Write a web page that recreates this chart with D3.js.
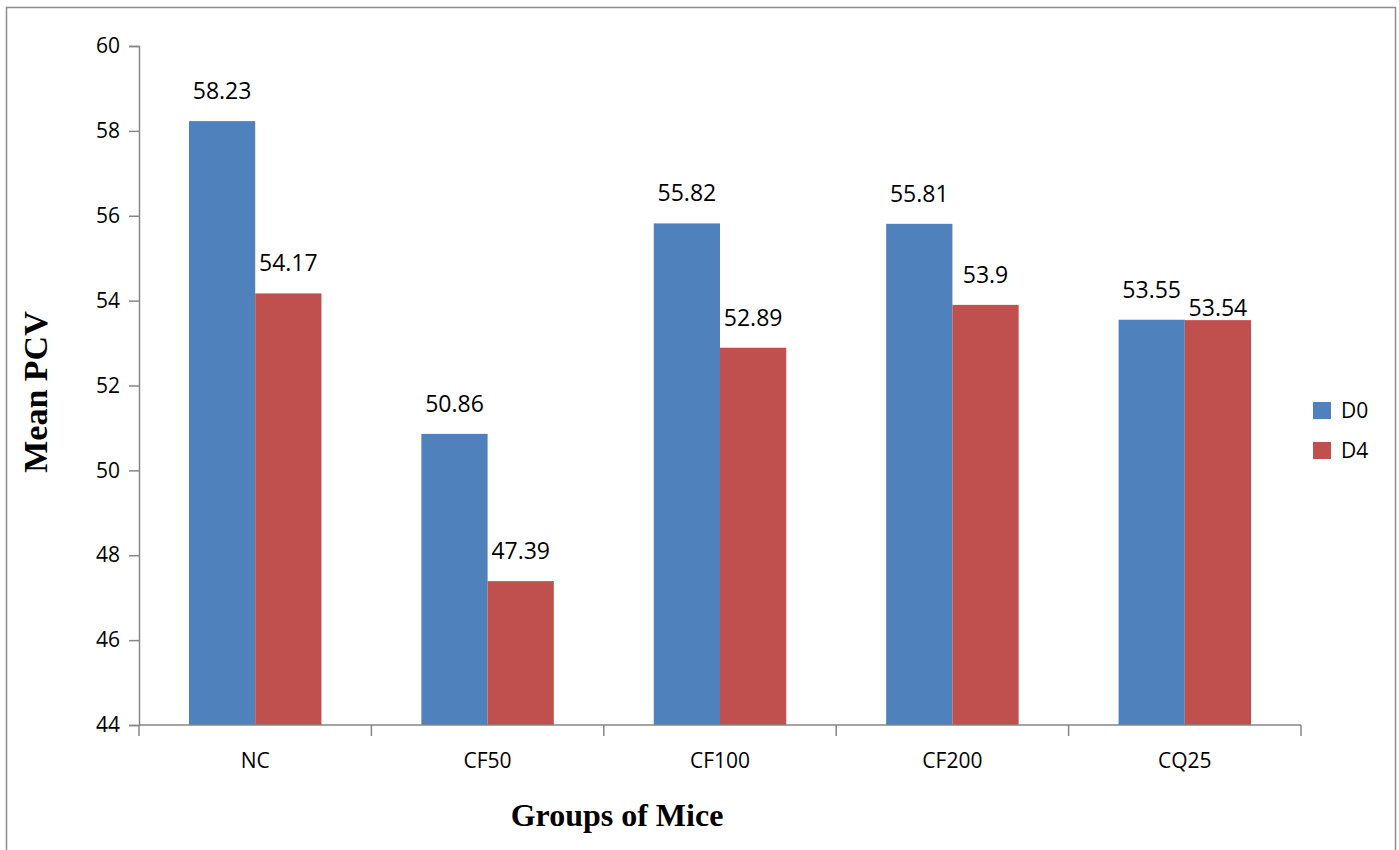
<!DOCTYPE html>
<html>
<head>
<meta charset="utf-8">
<script src="https://cdn.jsdelivr.net/npm/d3@7"></script>
<style>
  html, body { margin: 0; padding: 0; background: #fff; }
  svg { display: block; }
</style>
</head>
<body>
<svg id="chart" width="1399" height="850"></svg>
<script>
// Mean PCV per group of mice, day 0 vs day 4
const groups = ["NC", "CF50", "CF100", "CF200", "CQ25"];
const seriesNames = ["D0", "D4"];
const d0Values = [58.23, 50.86, 55.82, 55.81, 53.55];
const d4Values = [54.17, 47.39, 52.89, 53.9, 53.54];
const d0Labels = ["58.23", "50.86", "55.82", "55.81", "53.55"];
const d4Labels = ["54.17", "47.39", "52.89", "53.9", "53.54"];
const yTicks = [44, 46, 48, 50, 52, 54, 56, 58, 60];
const colors = ["#4F81BD", "#C0504D"];

const svg = d3.select("#chart");
const font = "'Open Sans', 'Liberation Sans', sans-serif";
const serif = "'Liberation Serif', 'Times New Roman', serif";
const axisColor = "#868686";

// outer chart frame
svg.append("rect")
  .attr("x", 6.5).attr("y", 7.5)
  .attr("width", 1389).attr("height", 860)
  .attr("fill", "none").attr("stroke", "#8c8c8c").attr("stroke-width", 1.5);

const plotLeft = 139, plotRight = 1301, plotTop = 46, plotBottom = 725;

const x = d3.scaleBand().domain(groups).range([plotLeft, plotRight]).padding(0);
const y = d3.scaleLinear().domain([44, 60]).range([plotBottom, plotTop]);
const barW = x.bandwidth() * 0.285;

const rows = groups.map((g, i) => ({
  group: g,
  vals: [d0Values[i], d4Values[i]],
  labels: [d0Labels[i], d4Labels[i]]
}));

// bars
const gGroups = svg.append("g").selectAll("g").data(rows).join("g");
gGroups.selectAll("rect")
  .data(d => d.vals.map((v, k) => ({ group: d.group, v, k })))
  .join("rect")
  .attr("x", d => x(d.group) + x.bandwidth() / 2 + (d.k - 1) * barW)
  .attr("width", barW)
  .attr("y", d => y(d.v))
  .attr("height", d => y(44) - y(d.v))
  .attr("fill", d => colors[d.k]);

// value labels; when the pair is nearly equal, the second label drops to avoid overlap
gGroups.each(function(d) {
  const g = d3.select(this);
  const close = Math.abs(y(d.vals[0]) - y(d.vals[1])) < 20;
  d.vals.forEach((v, k) => {
    const lift = (close && k === 1) ? 4 : 22;
    g.append("text")
      .attr("x", x(d.group) + x.bandwidth() / 2 + (k - 0.5) * barW)
      .attr("y", y(v) - lift)
      .attr("text-anchor", "middle")
      .attr("font-family", font).attr("font-size", 23)
      .attr("fill", "#000")
      .text(d.labels[k]);
  });
});

// y axis
const yAxis = d3.axisLeft(y).tickValues(yTicks).tickSize(10).tickPadding(9).tickFormat(d3.format("d"));
const yG = svg.append("g").attr("transform", `translate(${plotLeft},0)`).call(yAxis);
yG.select(".domain").attr("stroke", axisColor).attr("stroke-width", 1.5);
yG.selectAll(".tick line").attr("stroke", axisColor).attr("stroke-width", 1.5);
yG.selectAll(".tick text").attr("font-family", font).attr("font-size", 21).attr("fill", "#000");

// x axis: ticks sit at the category boundaries
const xAxisG = svg.append("g");
xAxisG.append("line")
  .attr("x1", plotLeft).attr("x2", plotRight).attr("y1", plotBottom).attr("y2", plotBottom)
  .attr("stroke", axisColor).attr("stroke-width", 1.5);
const bounds = groups.map(g => x(g)).concat([plotRight]);
xAxisG.selectAll("line.tk").data(bounds).join("line")
  .attr("class", "tk")
  .attr("x1", d => d).attr("x2", d => d)
  .attr("y1", plotBottom).attr("y2", plotBottom + 11)
  .attr("stroke", axisColor).attr("stroke-width", 1.5);
xAxisG.selectAll("text").data(groups).join("text")
  .attr("x", d => x(d) + x.bandwidth() / 2)
  .attr("y", 768)
  .attr("text-anchor", "middle")
  .attr("font-family", font).attr("font-size", 21).attr("fill", "#000")
  .text(d => d);

// axis titles
svg.append("text")
  .attr("x", 617).attr("y", 826)
  .attr("text-anchor", "middle")
  .attr("font-family", serif)
  .attr("font-weight", "bold").attr("font-size", 32)
  .text("Groups of Mice");

svg.append("text")
  .attr("transform", "translate(47,392) rotate(-90)")
  .attr("text-anchor", "middle")
  .attr("font-family", serif)
  .attr("font-weight", "bold").attr("font-size", 34)
  .text("Mean PCV");

// legend
const legend = svg.append("g").selectAll("g").data(seriesNames).join("g")
  .attr("transform", (d, i) => `translate(1313,${402 + i * 40})`);
legend.append("rect").attr("width", 18).attr("height", 17).attr("fill", (d, i) => colors[i]);
legend.append("text")
  .attr("x", 28).attr("y", 16)
  .attr("font-family", font).attr("font-size", 21).attr("fill", "#000")
  .text(d => d);
</script>
</body>
</html>
